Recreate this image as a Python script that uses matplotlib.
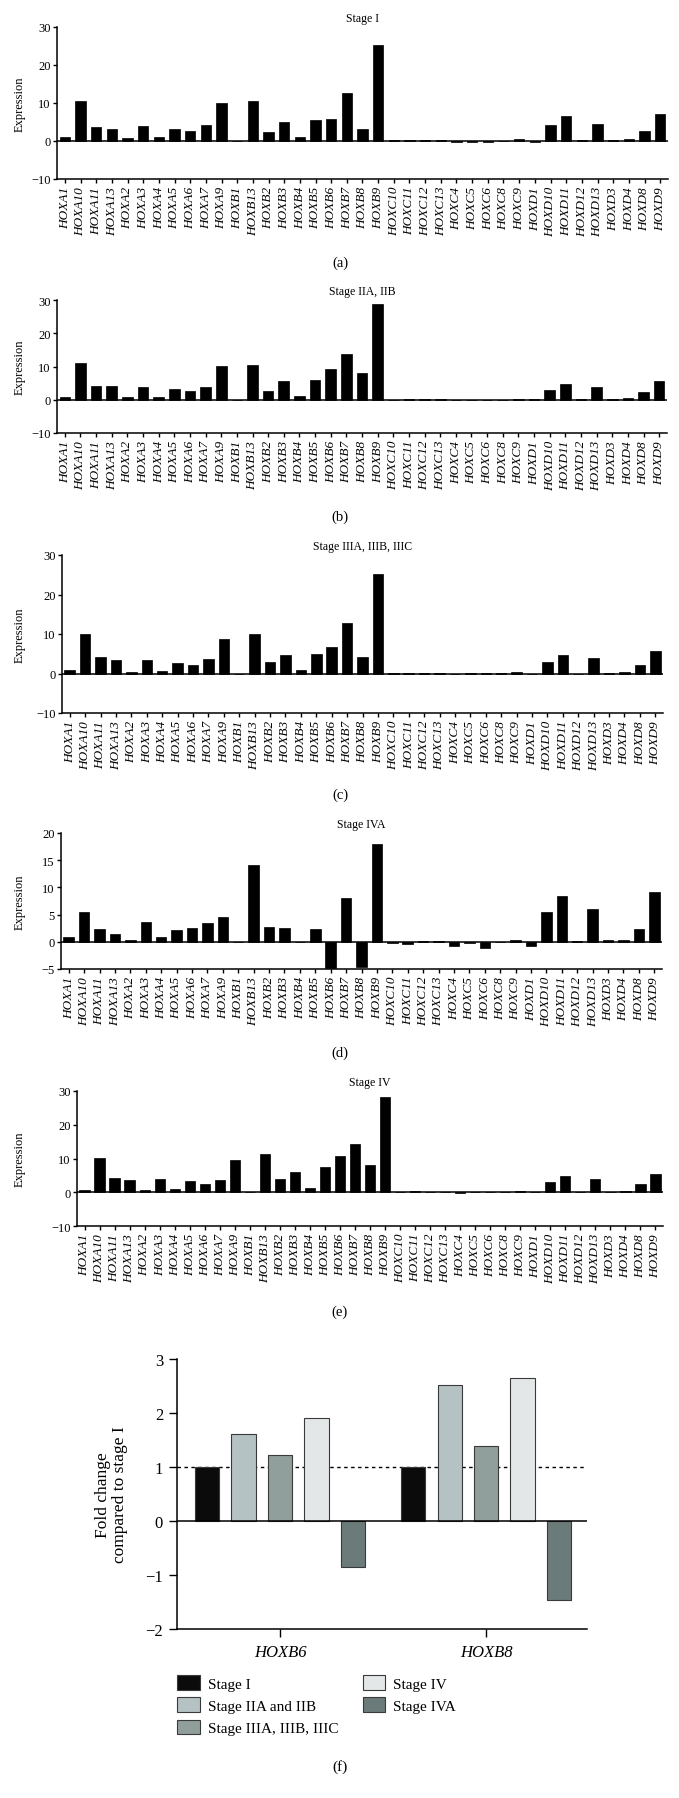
import numpy as np
import matplotlib
matplotlib.use('Agg')
import matplotlib.pyplot as plt

plt.rcParams['font.family'] = ['Liberation Serif', 'DejaVu Serif']

genes = ['HOXA1', 'HOXA10', 'HOXA11', 'HOXA13', 'HOXA2', 'HOXA3', 'HOXA4', 'HOXA5',
         'HOXA6', 'HOXA7', 'HOXA9', 'HOXB1', 'HOXB13', 'HOXB2', 'HOXB3', 'HOXB4',
         'HOXB5', 'HOXB6', 'HOXB7', 'HOXB8', 'HOXB9', 'HOXC10', 'HOXC11', 'HOXC12',
         'HOXC13', 'HOXC4', 'HOXC5', 'HOXC6', 'HOXC8', 'HOXC9', 'HOXD1', 'HOXD10',
         'HOXD11', 'HOXD12', 'HOXD13', 'HOXD3', 'HOXD4', 'HOXD8', 'HOXD9']

stage_i = [1.1, 10.6, 3.6, 3.2, 0.8, 3.9, 1.1, 3.2, 2.6, 4.2, 10.0, 0.0, 10.5, 2.5, 5.0,
           1.1, 5.4, 5.8, 12.6, 3.2, 25.2, 0.25, 0.25, 0.25, 0.25, -0.2, -0.2, -0.2, 0.0,
           0.5, -0.2, 4.1, 6.6, 0.2, 4.4, 0.2, 0.4, 2.7, 7.1]
stage_ii = [0.9, 11.0, 4.1, 4.1, 0.8, 3.9, 0.8, 3.1, 2.5, 3.8, 10.3, 0.0, 10.6, 2.5, 5.6,
            1.1, 6.0, 9.2, 13.8, 7.9, 28.8, 0.0, 0.2, 0.1, 0.1, -0.1, 0.0, 0.0, 0.05,
            0.3, 0.2, 2.9, 4.7, 0.1, 3.7, 0.2, 0.5, 2.3, 5.7]
stage_iii = [0.8, 9.9, 4.1, 3.4, 0.5, 3.4, 0.7, 2.6, 2.2, 3.55, 8.8, 0.0, 9.9, 2.8, 4.7,
             0.9, 5.0, 6.8, 12.8, 4.1, 25.2, 0.05, 0.05, 0.05, 0.05, -0.1, 0.05, 0.05, 0.05,
             0.3, 0.0, 2.9, 4.8, 0.0, 3.9, 0.1, 0.3, 2.2, 5.6]
stage_iva = [0.9, 5.4, 2.3, 1.5, 0.4, 3.7, 0.85, 2.15, 2.6, 3.5, 4.5, 0.0, 14.2, 2.75, 2.5,
             -0.1, 2.4, -4.8, 8.1, -4.7, 17.9, -0.3, -0.4, 0.1, 0.1, -0.8, -0.3, -1.15, -0.1,
             0.4, -0.85, 5.4, 8.4, 0.2, 6.0, 0.3, 0.3, 2.4, 9.2]
stage_iv = [0.8, 10.2, 4.1, 3.6, 0.6, 3.8, 0.9, 3.2, 2.4, 3.6, 9.7, 0.0, 11.3, 3.8, 5.9,
            1.3, 7.4, 10.8, 14.2, 8.2, 28.1, 0.0, 0.3, 0.1, 0.1, -0.1, 0.05, 0.2, 0.1,
            0.4, 0.1, 3.0, 4.75, 0.1, 3.9, 0.2, 0.4, 2.3, 5.35]

fold_genes = ['HOXB6', 'HOXB8']
fold_stages = ['Stage I', 'Stage IIA and IIB', 'Stage IIIA, IIIB, IIIC', 'Stage IV', 'Stage IVA']
fold_values = [[1.0, 1.0], [1.62, 2.51], [1.22, 1.38], [1.90, 2.64], [-0.86, -1.47]]
fold_colors = ['#0b0b0b', '#b5c2c3', '#909e9c', '#e3e7e7', '#6a7b79']

W, H = 679, 1799
fig = plt.figure(figsize=(W / 100, H / 100), dpi=100)


def box(l, t, r, b):
    return [l / W, 1 - b / H, (r - l) / W, (b - t) / H]


panels = [
    (stage_i, 'Stage I', (57, 28, 668, 180), (-10, 30), [-10, 0, 10, 20, 30], '(a)', 263),
    (stage_ii, 'Stage IIA, IIB', (57, 301, 667, 434), (-10, 30), [-10, 0, 10, 20, 30], '(b)', 517),
    (stage_iii, 'Stage IIIA, IIIB, IIIC', (62, 556, 663, 714), (-10, 30), [-10, 0, 10, 20, 30], '(c)', 795),
    (stage_iva, 'Stage IVA', (61, 834, 662, 970), (-5, 20), [-5, 0, 5, 10, 15, 20], '(d)', 1053),
    (stage_iv, 'Stage IV', (77, 1092, 663, 1227), (-10, 30), [-10, 0, 10, 20, 30], '(e)', 1312),
]

x = np.arange(len(genes))
for vals, title, pos, ylim, yt, tag, tag_y in panels:
    ax = fig.add_axes(box(*pos))
    ax.bar(x, vals, width=0.68, color='black', edgecolor='black', linewidth=0.5)
    ax.axhline(0, color='black', linewidth=1.1)
    ax.set_xlim(-0.5, len(genes) - 0.5)
    ax.set_ylim(*ylim)
    ax.set_yticks(yt)
    ax.set_xticks(x)
    ax.set_xticklabels(genes, rotation=90, fontstyle='italic', fontsize=9.5)
    ax.tick_params(axis='y', labelsize=9, length=3, width=1, pad=1.5)
    ax.tick_params(axis='x', length=3, width=1, pad=2)
    for s in ['top', 'right']:
        ax.spines[s].set_visible(False)
    for s in ['left', 'bottom']:
        ax.spines[s].set_linewidth(1.1)
    ax.set_title(title, fontsize=8.5, pad=4)
    ax.set_ylabel('Expression', fontsize=9)
    ax.yaxis.set_label_coords((26 - pos[0]) / (pos[2] - pos[0]), 0.5)
    fig.text(340 / W, 1 - tag_y / H, tag, ha='center', va='center', fontsize=10.5)

# panel (f)
ax = fig.add_axes(box(177, 1360, 587, 1630))
gx = np.arange(len(fold_genes))
step, bw = 0.177, 0.117
for i, (lab, vals, col) in enumerate(zip(fold_stages, fold_values, fold_colors)):
    ax.bar(gx + (i - 2) * step, vals, width=bw, color=col, edgecolor='#3a3a3a',
           linewidth=0.8, label=lab, zorder=2)
ax.axhline(0, color='black', linewidth=1.1, zorder=3)
ax.axhline(1, color='black', linewidth=1.0, linestyle=(0, (2.5, 2.5)), zorder=1)
ax.set_xlim(-0.5, 1.49)
ax.set_ylim(-2, 3)
ax.set_yticks([-2, -1, 0, 1, 2, 3])
ax.set_xticks(gx)
ax.set_xticklabels(fold_genes, fontstyle='italic', fontsize=12)
ax.tick_params(axis='y', labelsize=12, length=6, width=1, pad=4)
ax.tick_params(axis='x', labelsize=12, length=6, width=1, pad=5)
for s in ['top', 'right']:
    ax.spines[s].set_visible(False)
for s in ['left', 'bottom']:
    ax.spines[s].set_linewidth(1.1)
ax.set_ylabel('Fold change\ncompared to stage I', fontsize=12.5, linespacing=1.1)
ax.yaxis.set_label_coords((128 - 177) / 410, 0.5)

fig.legend(loc='upper left', bbox_to_anchor=(177 / W, 1 - 1676 / H), ncol=2,
           frameon=False, fontsize=11, handlelength=1.5, handleheight=1.1,
           handletextpad=0.5, labelspacing=0.45, columnspacing=1.6,
           borderpad=0, borderaxespad=0)
fig.text(340 / W, 1 - 1767 / H, '(f)', ha='center', va='center', fontsize=11)

fig.savefig('out.png', dpi=100)
